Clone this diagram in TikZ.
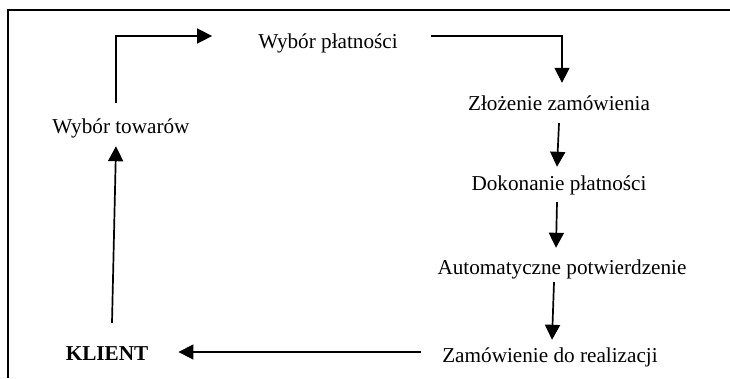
\documentclass[tikz,border=0pt]{standalone}
\usepackage{fontspec}
\setmainfont{Liberation Serif}
\usetikzlibrary{arrows.meta}
\begin{document}
\begin{tikzpicture}[x=1pt,y=-1pt,
  lbl/.style={anchor=base,inner sep=0pt,text height=15pt,text depth=5pt,
              font=\fontsize{21.2}{25}\selectfont},
  arr/.style={line width=1.7pt,-{Triangle[length=15pt,width=15pt]}},
  frame/.style={line width=2pt}]
\useasboundingbox (0,0) rectangle (730,378);

% outer frame (open at the bottom)
\draw[frame] (8,378) -- (8,10) -- (730,10);

% process steps
\node[lbl] (tow) at (121,133) {Wybór towarów};
\node[lbl] (pl)  at (328,48)  {Wybór płatności};
\node[lbl] (zl)  at (559,110) {Złożenie zamówienia};
\node[lbl] (dok) at (559,190) {Dokonanie płatności};
\node[lbl] (aut) at (562,274) {Automatyczne potwierdzenie};
\node[lbl] (zam) at (550,362) {Zamówienie do realizacji};
\node[lbl,font=\fontsize{21.2}{25}\selectfont\bfseries] (kl) at (107,360) {KLIENT};

% connectors
\draw[arr] ([xshift=-5pt,yshift=15pt]tow.north) |- ([xshift=-46pt,yshift=7pt]pl.west);
\draw[arr] ([xshift=33pt,yshift=7pt]pl.east) -| ([xshift=3pt,yshift=12pt]zl.north);
\draw[arr] ([yshift=-8pt]zl.south) -- ([xshift=-2pt,yshift=8pt]dok.north);
\draw[arr] ([xshift=-2pt,yshift=-7pt]dok.south) -- ([xshift=-6pt,yshift=11pt]aut.north);
\draw[arr] ([xshift=-8pt,yshift=-3pt]aut.south) -- ([xshift=2pt,yshift=7pt]zam.north);
\draw[arr] ([xshift=-21pt,yshift=5pt]zam.west) -- ([xshift=30pt,yshift=3pt]kl.east);
\draw[arr] ([xshift=5pt,yshift=22pt]kl.north) -- ([xshift=-5pt,yshift=-8pt]tow.south);
\end{tikzpicture}
\end{document}
